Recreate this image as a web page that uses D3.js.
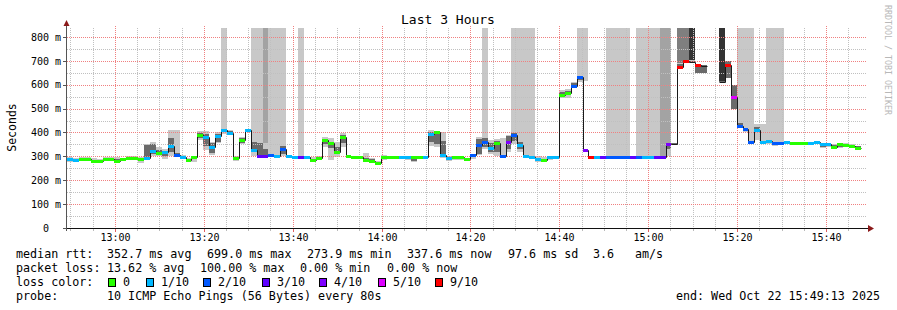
<!DOCTYPE html>
<html>
<head>
<meta charset="utf-8">
<title>Last 3 Hours</title>
<script src="https://d3js.org/d3.v7.min.js"></script>
<style>
  body { margin: 0; background: #fff; }
  svg { display: block; font-family: "DejaVu Sans Mono", monospace; }
  .grid line { shape-rendering: crispEdges; stroke-dasharray: 1,1; }
  .tall rect, .smoke rect, .band rect, .box rect { shape-rendering: crispEdges; }
  .ylab { white-space: pre; }
</style>
</head>
<body>
<svg id="chart" width="897" height="310"></svg>
<script>
var endTime = new Date(2025, 9, 22, 15, 49, 13);
var startTime = new Date(endTime.getTime() - 3 * 3600 * 1000);
var stepSec = 80;

// median rtt per 80s step (ms), null = no data
var median = [288,283,288,290,281,280,289,289,280,287,
  294,294,289,294,324,313,318,345,304,299,
  283,297,389,382,340,385,410,399,294,368,
  409,325,302,302,305,300,331,300,298,298,
  298,285,294,368,355,320,381,301,296,296,
  285,281,274,297,297,297,298,298,297,297,
  297,392,400,305,294,296,296,288,305,348,
  359,336,355,301,359,389,349,301,297,288,
  285,297,297,557,564,596,632,327,297,297,
  297,297,299,299,297,299,297,297,297,297,
  298,352,352,675,699,697,683,678,null,null,
  613,683,547,428,413,362,410,359,366,355,
  355,359,356,356,356,355,359,350,350,341,
  353,349,343,337];

// lost pings out of 10, null = no loss colour drawn
var loss = [1,1,0,0,0,0,0,0,0,0,
  0,0,0,1,1,0,1,1,2,1,
  0,0,0,1,1,1,1,1,0,0,
  1,1,3,3,2,1,2,1,1,3,
  1,0,0,0,0,0,0,0,0,0,
  0,0,0,0,0,0,1,1,0,0,
  1,1,0,1,1,0,0,0,2,2,
  2,1,0,2,4,2,1,1,1,1,
  0,1,1,0,0,2,2,4,9,1,
  3,2,2,2,2,3,2,1,1,3,
  3,4,null,9,9,null,9,null,null,null,
  null,9,5,2,2,2,1,1,1,2,
  2,1,0,0,0,1,1,1,1,0,
  0,0,0,0];

// outer smoke (all pings) range, ms
var smokeLo = [276,275,280,280,273,272,282,282,274,280,
  286,285,272,292,300,300,290,300,298,294,
  275,278,370,325,305,355,395,388,280,350,
  400,300,300,300,298,294,300,296,294,294,
  288,278,286,340,285,298,340,296,292,291,
  280,275,270,285,288,290,292,285,275,292,
  293,345,340,295,280,285,284,283,287,305,
  330,310,300,298,320,350,320,297,294,278,
  280,286,294,545,545,585,612,324,294,294,
  294,294,296,296,294,296,294,294,294,294,
  295,300,348,668,690,692,650,650,null,null,
  610,628,500,420,400,355,368,350,352,345,
  348,352,352,352,350,350,352,335,338,330,
  335,338,335,330];
var smokeHi = [298,292,296,298,292,290,296,296,296,295,
  300,300,296,352,360,338,330,410,410,304,
  295,302,405,405,362,400,418,410,302,382,
  415,365,358,355,310,305,378,304,302,303,
  302,296,300,382,377,360,396,306,300,300,
  312,292,281,306,300,300,302,303,300,300,
  300,412,405,400,300,300,300,295,310,382,
  400,370,372,376,390,405,365,305,300,300,
  296,300,300,578,582,612,640,330,300,300,
  300,300,302,302,300,302,300,300,300,300,
  300,355,356,690,705,702,688,682,null,null,
  616,700,600,440,420,368,435,435,372,362,
  360,364,360,360,360,360,362,356,354,350,
  358,354,350,345];

// inner (darker) smoke range, ms
var coreLo = [282,279,284,284,276,276,285,285,277,283,
  290,289,284,296,310,304,300,318,300,296,
  278,290,378,345,312,362,404,393,288,356,
  404,318,305,300,300,297,310,298,296,296,
  293,280,290,350,333,308,355,298,294,293,
  282,277,271,290,292,293,295,290,280,294,
  295,360,350,300,286,290,290,285,300,310,
  340,320,318,299,330,365,330,299,295,283,
  282,292,295,550,555,590,620,325,295,295,
  295,295,297,297,295,297,295,295,295,295,
  296,330,349,670,692,694,650,650,null,null,
  611,628,500,425,405,357,400,354,356,350,
  351,355,354,354,353,352,355,340,342,334,
  340,341,338,333];
var coreHi = [292,288,292,294,286,286,293,293,289,291,
  297,297,293,346,352,325,322,378,312,302,
  290,300,398,395,356,395,414,405,298,376,
  412,360,355,330,308,303,345,302,300,300,
  300,290,298,374,355,340,390,304,298,298,
  292,288,278,302,299,299,300,300,297,299,
  299,402,400,365,298,299,299,292,308,372,
  378,355,365,305,385,398,360,303,299,295,
  290,299,299,568,574,606,638,329,299,299,
  299,299,301,301,299,301,299,299,299,299,
  300,355,355,688,702,700,688,682,null,null,
  615,700,600,438,418,366,425,365,370,360,
  359,362,358,358,358,358,361,353,352,347,
  356,352,348,342];

// steps where lost pings push the smoke to the top of the graph
var tallStep  = [26,31,32,33,34,35,36,39,70,75,76,77,78,86,87,91,92,93,94,96,97,98,99,100,101,103,104,105,110,113,114,115,118,119,120];
var tallBase  = [418,365,355,300,310,305,378,300,400,405,365,305,300,640,615,300,300,300,300,300,300,300,300,300,300,690,705,700,613,440,420,368,372,362,360];
var tallShade = [1,1,1,2,1,1,1,1,1,1,1,1,1,1,1,1,1,1,1,1,1,1,1,2,2,3,3,4,4,1,1,1,1,1,1];

var lossLevels = [0, 1, 2, 3, 4, 5, 9];
var lossLabels = ["0", "1/10", "2/10", "3/10", "4/10", "5/10", "9/10"];
var lossColors = ["#26ff00", "#00b8ff", "#0059ff", "#5e00ff", "#7e00ff", "#dd00ff", "#ff0000"];

var yTicks = [0, 100, 200, 300, 400, 500, 600, 700, 800];
var rttStats = ["352.7 ms avg", "699.0 ms max", "273.9 ms min", "337.6 ms now", "97.6 ms sd"];
var lossStats = ["13.62 % avg", "100.00 % max", "0.00 % min", "0.00 % now"];

var shadeColors = [null, "#c8c8c8", "#a3a3a3", "#7f7f7f", "#333333"];

var svg = d3.select("#chart");
var x = d3.scaleTime().domain([startTime, endTime]).range([67, 867]);
var y = d3.scaleLinear().domain([0, 837.5]).range([228, 28]);
var yTop = Math.round(y(837.5));

function stepTime(i) { return new Date(startTime.getTime() + i * stepSec * 1000); }
function sx(i) { return Math.round(x(stepTime(i))); }
function sy(v) { return Math.round(y(v)); }
function lossColor(l) {
  var c = 0;
  lossLevels.forEach(function(lv, k) { if (l >= lv) c = k; });
  return lossColors[c];
}

var steps = d3.range(median.length);

// tall smoke columns
svg.append("g").attr("class", "tall")
  .selectAll("rect").data(tallStep).join("rect")
  .attr("x", function(s) { return sx(s); })
  .attr("width", function(s) { return sx(s + 1) - sx(s); })
  .attr("y", yTop)
  .attr("height", function(s, i) { return sy(tallBase[i]) - yTop; })
  .attr("fill", function(s, i) { return shadeColors[tallShade[i]]; });

// smoke
var smoke = svg.append("g").attr("class", "smoke");
smoke.selectAll("rect.outer").data(steps.filter(function(i) { return smokeLo[i] != null; }))
  .join("rect").attr("class", "outer")
  .attr("x", function(i) { return sx(i); })
  .attr("width", function(i) { return sx(i + 1) - sx(i); })
  .attr("y", function(i) { return sy(smokeHi[i]); })
  .attr("height", function(i) { return Math.max(1, sy(smokeLo[i]) - sy(smokeHi[i])); })
  .attr("fill", "#c8c8c8");
smoke.selectAll("rect.core").data(steps.filter(function(i) { return coreLo[i] != null; }))
  .join("rect").attr("class", "core")
  .attr("x", function(i) { return sx(i); })
  .attr("width", function(i) { return sx(i + 1) - sx(i); })
  .attr("y", function(i) { return sy(coreHi[i]); })
  .attr("height", function(i) { return Math.max(1, sy(coreLo[i]) - sy(coreHi[i])); })
  .attr("fill", "#6a6a6a");

// grid
var grid = svg.append("g").attr("class", "grid");
var minorY = d3.range(50, 837, 50).filter(function(v) { return v % 100 !== 0; });
var majorY = yTicks.filter(function(v) { return v > 0; });
var allMin = d3.timeMinute.every(5).range(startTime, endTime);
var minorX = allMin.filter(function(d) { return d.getMinutes() % 20 !== 0; });
var majorX = allMin.filter(function(d) { return d.getMinutes() % 20 === 0; });

grid.selectAll("line.hmin").data(minorY).join("line").attr("class", "hmin")
  .attr("x1", 67).attr("x2", 867)
  .attr("y1", function(v) { return sy(v) + 0.5; }).attr("y2", function(v) { return sy(v) + 0.5; })
  .attr("stroke", "#c0c0c0");
grid.selectAll("line.vmin").data(minorX).join("line").attr("class", "vmin")
  .attr("y1", yTop).attr("y2", 228)
  .attr("x1", function(d) { return Math.round(x(d)) + 0.5; }).attr("x2", function(d) { return Math.round(x(d)) + 0.5; })
  .attr("stroke", "#c0c0c0");
grid.selectAll("line.hmaj").data(majorY).join("line").attr("class", "hmaj")
  .attr("x1", 67).attr("x2", 867)
  .attr("y1", function(v) { return sy(v) + 0.5; }).attr("y2", function(v) { return sy(v) + 0.5; })
  .attr("stroke", "#f08080");
grid.selectAll("line.vmaj").data(majorX).join("line").attr("class", "vmaj")
  .attr("y1", yTop - 2).attr("y2", 228)
  .attr("x1", function(d) { return Math.round(x(d)) + 0.5; }).attr("x2", function(d) { return Math.round(x(d)) + 0.5; })
  .attr("stroke", "#f08080");

// median line
var pts = [];
steps.forEach(function(i) {
  pts.push({ t: i, v: median[i] });
  pts.push({ t: i + 1, v: median[i] });
});
var line = d3.line()
  .defined(function(d) { return d.v != null; })
  .x(function(d) { return sx(d.t) + 0.5; })
  .y(function(d) { return sy(d.v) + 0.5; });
svg.append("path").datum(pts)
  .attr("d", line)
  .attr("fill", "none")
  .attr("stroke", "#1a1a1a")
  .attr("stroke-width", 1);

// loss colour bands on the median
svg.append("g").attr("class", "band")
  .selectAll("rect").data(steps.filter(function(i) { return loss[i] != null && median[i] != null; }))
  .join("rect")
  .attr("x", function(i) { return sx(i); })
  .attr("width", function(i) { return sx(i + 1) - sx(i); })
  .attr("y", function(i) { return sy(median[i]) - 1; })
  .attr("height", 3)
  .attr("fill", function(i) { return lossColor(loss[i]); });

// axes
var axis = svg.append("g").attr("shape-rendering", "crispEdges");
axis.append("line").attr("x1", 66.5).attr("x2", 66.5).attr("y1", 231).attr("y2", 25).attr("stroke", "#555");
axis.append("line").attr("x1", 63).attr("x2", 869).attr("y1", 228.5).attr("y2", 228.5).attr("stroke", "#111");
axis.selectAll("line.yt").data(yTicks).join("line").attr("class", "yt")
  .attr("x1", 63).attr("x2", 67)
  .attr("y1", function(v) { return sy(v) + 0.5; }).attr("y2", function(v) { return sy(v) + 0.5; })
  .attr("stroke", "#555");
axis.selectAll("line.xt").data(majorX).join("line").attr("class", "xt")
  .attr("y1", 229).attr("y2", 232)
  .attr("x1", function(d) { return Math.round(x(d)) + 0.5; }).attr("x2", function(d) { return Math.round(x(d)) + 0.5; })
  .attr("stroke", "#e06060");
axis.selectAll("line.xm").data(minorX).join("line").attr("class", "xm")
  .attr("y1", 229).attr("y2", 231)
  .attr("x1", function(d) { return Math.round(x(d)) + 0.5; }).attr("x2", function(d) { return Math.round(x(d)) + 0.5; })
  .attr("stroke", "#bbb");
svg.append("path").attr("d", "M63.5,26 L66.5,20 L69.5,26 Z").attr("fill", "#8b1a1a");
svg.append("path").attr("d", "M868,225 L874,228.5 L868,232 Z").attr("fill", "#8b1a1a");

// y tick labels
svg.selectAll("text.ylab").data(yTicks).join("text").attr("class", "ylab")
  .attr("x", 61)
  .attr("y", function(v) { return y(v) + 3.7; })
  .attr("text-anchor", "end")
  .attr("font-size", 10)
  .text(function(v) { return v === 0 ? "0  " : v + " m"; });

// x tick labels
var fmt = d3.timeFormat("%H:%M");
svg.selectAll("text.xlab").data(majorX).join("text").attr("class", "xlab")
  .attr("x", function(d) { return Math.round(x(d)) + 0.5; })
  .attr("y", 241)
  .attr("text-anchor", "middle")
  .attr("font-size", 10)
  .text(fmt);

// title, axis label, watermark
svg.append("text").attr("x", 448).attr("y", 24).attr("text-anchor", "middle")
  .attr("font-size", 13).text("Last 3 Hours");
svg.append("text").attr("transform", "translate(15.5,127.5) rotate(-90)")
  .attr("text-anchor", "middle").attr("font-size", 11.5).text("Seconds");
svg.append("text").attr("transform", "translate(884.5,5) rotate(90)")
  .attr("font-size", 8.3).attr("fill", "#b8b8b8").text("RRDTOOL / TOBI OETIKER");

// legend
var leg = svg.append("g").attr("font-size", 11.7).attr("fill", "#000");
var rttX = [107, 207, 307, 407, 508];
var lossX = [107, 200, 300, 387];
leg.append("text").attr("x", 16).attr("y", 258).text("median rtt:");
rttStats.forEach(function(s, i) { leg.append("text").attr("x", rttX[i]).attr("y", 258).text(s); });
leg.append("text").attr("x", 593).attr("y", 258).text("3.6");
leg.append("text").attr("x", 635).attr("y", 258).text("am/s");
leg.append("text").attr("x", 16).attr("y", 272).text("packet loss:");
lossStats.forEach(function(s, i) { leg.append("text").attr("x", lossX[i]).attr("y", 272).text(s); });
leg.append("text").attr("x", 16).attr("y", 286).text("loss color:");
var boxX = [108, 146, 203, 262, 319, 378, 435];
var boxes = leg.append("g").attr("class", "box");
lossLabels.forEach(function(lab, i) {
  boxes.append("rect").attr("x", boxX[i] + 0.5).attr("y", 278.5).attr("width", 7).attr("height", 8)
    .attr("fill", lossColors[i]).attr("stroke", "#000").attr("stroke-width", 1);
  leg.append("text").attr("x", boxX[i] + 15).attr("y", 286).text(lab);
});
leg.append("text").attr("x", 16).attr("y", 299.5).text("probe:");
leg.append("text").attr("x", 107).attr("y", 299.5).text("10 ICMP Echo Pings (56 Bytes) every 80s");
leg.append("text").attr("x", 880).attr("y", 299.5).attr("text-anchor", "end").text("end: Wed Oct 22 15:49:13 2025");
</script>
</body>
</html>
